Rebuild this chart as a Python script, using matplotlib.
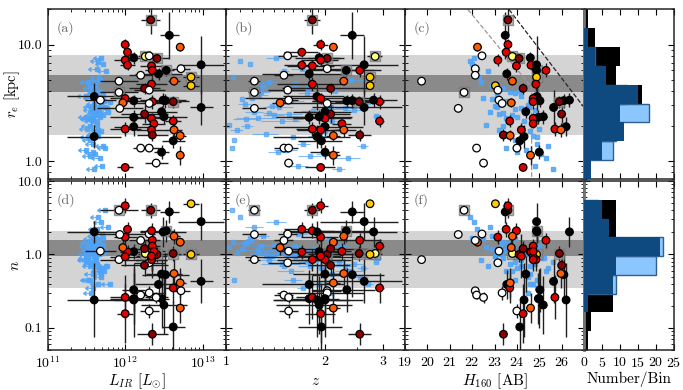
import numpy as np
import matplotlib
matplotlib.use("Agg")
import matplotlib.pyplot as plt
from matplotlib.ticker import FixedLocator, FixedFormatter, NullFormatter, LogLocator

plt.rcParams['font.family'] = 'cmr10'
plt.rcParams['mathtext.fontset'] = 'cm'
plt.rcParams['axes.formatter.use_mathtext'] = True

# ---------------------------------------------------------
# DUSTY GALAXIES (circles): colour code, log L_IR, r_e, z, H160, n
# ---------------------------------------------------------
gal_col = ['d', 'k', 'r', 'o', 'r', 'k', 'l', 'w', 'd', 'r',
           'r', 'r', 'r', 'k', 'k', 'w', 'k', 'w', 'y', 'w',
           'o', 'r', 'y', 'd', 'w', 'w', 'k', 'w', 'r', 'k',
           'o', 'r', 'w', 'k', 'k', 'd', 'w', 'k', 'd', 'k',
           'k', 'r', 'k', 'r', 'r', 'k', 'r', 'r', 'o', 'k',
           'd', 'o', 'k', 'w', 'w', 'k', 'o', 'w', 'r']
gal_lir = [12.33, 12.57, 12.00, 12.71, 12.03, 12.11, 12.26, 12.31, 12.41, 12.00,
           12.03, 12.34, 12.35, 12.43, 12.53, 12.72, 12.98, 12.20, 12.85, 11.92,
           12.63, 12.34, 12.85, 12.25, 12.31, 11.92, 11.60, 11.68, 12.00, 12.11,
           11.97, 12.35, 12.31, 12.49, 12.52, 12.62, 11.93, 12.98, 12.25, 12.47,
           12.11, 12.34, 12.50, 12.62, 12.37, 12.11, 12.00, 12.34, 12.63, 11.60,
           12.35, 12.71, 12.62, 12.20, 12.31, 12.47, 12.71, 12.40, 12.00]
gal_re = [16.3, 12.0, 10.0, 9.5, 8.6, 7.7, 7.9, 8.0, 7.6, 7.35,
          6.65, 6.56, 6.0, 5.6, 6.0, 6.2, 6.7, 5.45, 5.25, 4.85,
          4.85, 4.57, 4.43, 4.2, 4.06, 3.88, 3.58, 3.33, 3.44, 3.29,
          3.16, 3.23, 3.12, 3.33, 3.30, 3.23, 2.83, 2.88, 2.53, 2.65,
          2.37, 2.32, 2.40, 2.20, 2.09, 1.97, 1.88, 1.85, 1.85, 1.62,
          1.67, 1.65, 1.49, 1.29, 1.29, 1.19, 1.12, 0.96, 0.88]
gal_z = [1.83, 2.42, 1.94, 2.12, 1.70, 1.92, 2.84, 1.54, 2.03, 1.94,
         1.70, 1.83, 2.55, 1.79, 2.32, 2.03, 2.63, 1.50, 2.74, 1.22,
         2.28, 1.83, 2.74, 2.08, 1.54, 1.22, 1.89, 1.55, 1.94, 2.33,
         1.46, 2.93, 2.03, 2.81, 2.42, 2.54, 1.22, 2.63, 2.08, 2.00,
         1.79, 2.00, 1.92, 2.93, 2.25, 2.00, 1.83, 1.94, 2.28, 1.89,
         2.55, 2.12, 1.95, 1.50, 1.55, 2.00, 2.12, 1.55, 1.94]
gal_h = [23.60, 23.48, 23.60, 22.24, 23.52, 24.60, 23.80, 22.44, 24.10, 23.15,
         24.63, 23.98, 25.30, 23.55, 24.88, 22.14, 24.88, 22.14, 24.88, 19.74,
         23.80, 24.85, 23.04, 24.28, 23.15, 21.64, 24.90, 23.20, 24.73, 25.03,
         23.75, 24.73, 23.34, 26.35, 26.10, 25.90, 21.38, 25.64, 26.00, 24.40,
         24.96, 24.73, 25.18, 23.68, 24.73, 26.20, 25.70, 24.20, 25.97, 24.32,
         23.40, 23.70, 24.13, 22.20, 24.00, 25.00, 24.61, 22.51, 24.28]
gal_n = [4.0, 3.8, 4.6, 1.47, 2.2, 1.09, 1.03, 1.9, 1.0, 1.72,
         1.08, 2.1, 1.56, 0.39, 2.1, 0.32, 2.8, 1.55, 1.0, 0.85,
         1.77, 0.85, 4.9, 1.2, 0.77, 4.0, 2.03, 1.11, 0.93, 0.33,
         1.24, 1.3, 0.30, 2.03, 0.53, 1.03, 1.87, 0.43, 0.71, 0.54,
         0.25, 0.85, 0.205, 0.35, 1.1, 0.24, 0.26, 0.95, 0.55, 0.24,
         0.082, 0.41, 0.103, 0.28, 0.17, 0.25, 0.186, 0.26, 0.156]
gal_boxed = [1, 0, 0, 0, 0, 0, 1, 0, 1, 0,
             0, 0, 0, 0, 1, 0, 0, 0, 1, 0,
             0, 0, 0, 0, 0, 1, 0, 0, 0, 0,
             0, 0, 0, 0, 0, 1, 0, 0, 0, 0,
             0, 0, 0, 0, 0, 0, 0, 0, 0, 0,
             0, 0, 0, 0, 0, 0, 0, 0, 0]
# errors: dex for L_IR, r_e, n; absolute for z and H160
gal_lir_err = [0.12, 0.12, 0.05, 0.05, 0.05, 0.1, 0.1, 0.08, 0.15, 0.15,
               0.1, 0.15, 0.1, 0.3, 0.1, 0.12, 0.3, 0.15, 0.1, 0.25,
               0.08, 0.2, 0.1, 0.2, 0.2, 0.25, 0.35, 0.2, 0.2, 0.15,
               0.05, 0.1, 0.2, 0.3, 0.3, 0.1, 0.3, 0.15, 0.3, 0.2,
               0.3, 0.2, 0.3, 0.1, 0.15, 0.25, 0.2, 0.2, 0.1, 0.35,
               0.2, 0.08, 0.15, 0.1, 0.12, 0.1, 0.05, 0.15, 0.1]
gal_z_err = [0.1, 0.2, 0.1, 0.05, 0.2, 0.3, 0.15, 0.1, 0.25, 0.25,
             0.2, 0.3, 0.4, 0.5, 0.5, 0.2, 0.7, 0.1, 0.1, 0.05,
             0.05, 0.4, 0.05, 0.6, 0.2, 0.05, 0.4, 0.1, 0.8, 0.5,
             0.08, 0.1, 0.6, 0.5, 0.6, 0.4, 0.1, 0.8, 0.3, 0.4,
             0.2, 0.4, 0.5, 0.1, 0.15, 0.6, 0.2, 0.3, 0.2, 0.5,
             0.2, 0.1, 0.3, 0.1, 0.1, 0.2, 0.1, 0.05, 0.2]
gal_re_err = [0.12, 0.2, 0.05, 0.03, 0.04, 0.05, 0.03, 0.02, 0.04, 0.05,
              0.04, 0.05, 0.06, 0.05, 0.05, 0.02, 0.25, 0.02, 0.03, 0.02,
              0.03, 0.06, 0.03, 0.05, 0.02, 0.03, 0.12, 0.02, 0.05, 0.05,
              0.04, 0.06, 0.03, 0.06, 0.06, 0.05, 0.03, 0.15, 0.08, 0.05,
              0.06, 0.05, 0.06, 0.05, 0.04, 0.08, 0.06, 0.06, 0.06, 0.1,
              0.05, 0.05, 0.06, 0.02, 0.02, 0.06, 0.08, 0.03, 0.03]
gal_n_err = [0.1, 0.15, 0.1, 0.05, 0.1, 0.1, 0.05, 0.05, 0.1, 0.1,
             0.1, 0.1, 0.1, 0.2, 0.15, 0.05, 0.25, 0.05, 0.05, 0.05,
             0.1, 0.15, 0.05, 0.1, 0.05, 0.05, 0.15, 0.05, 0.12, 0.3,
             0.1, 0.1, 0.1, 0.2, 0.3, 0.1, 0.05, 0.3, 0.15, 0.25,
             0.35, 0.15, 0.4, 0.2, 0.12, 0.5, 0.3, 0.3, 0.2, 0.5,
             0.15, 0.2, 0.35, 0.05, 0.1, 0.4, 0.2, 0.08, 0.4]
gal_h_err = [0.15, 0.15, 0.1, 0.05, 0.1, 0.1, 0.15, 0.05, 0.1, 0.1,
             0.1, 0.1, 0.15, 0.1, 0.15, 0.05, 0.15, 0.05, 0.1, 0.05,
             0.05, 0.15, 0.1, 0.1, 0.05, 0.05, 0.15, 0.05, 0.1, 0.15,
             0.05, 0.1, 0.05, 0.15, 0.15, 0.15, 0.05, 0.15, 0.15, 0.1,
             0.15, 0.1, 0.15, 0.1, 0.1, 0.15, 0.15, 0.1, 0.15, 0.1,
             0.1, 0.1, 0.1, 0.05, 0.05, 0.15, 0.1, 0.05, 0.1]

# ---------------------------------------------------------
# BLUE COMPARISON SAMPLE (squares, L_IR are upper limits)
# ---------------------------------------------------------
blue_lir = [11.62, 11.55, 11.70, 11.58, 11.66, 11.52, 11.74, 11.60, 11.63, 11.68,
            11.50, 11.72, 11.57, 11.65, 11.80, 11.54, 11.61, 11.67, 11.71, 11.49,
            11.64, 11.59, 11.66, 11.75, 11.53, 11.69, 11.62, 11.56, 11.78, 11.61,
            11.58, 11.65, 11.73, 11.51, 11.60, 11.70, 11.64, 11.68, 11.55, 11.63,
            11.57, 11.72, 11.66, 11.52, 11.69, 11.60, 11.76, 11.58, 11.63, 11.50,
            11.71, 11.65, 11.59, 11.67, 11.54, 11.62, 11.74, 11.56, 11.61, 11.69]
blue_re = [2.6, 1.1, 3.4, 2.2, 5.3, 1.6, 2.9, 0.85, 3.9, 2.4,
           1.25, 6.8, 2.75, 1.85, 3.2, 2.35, 4.6, 1.05, 2.5, 3.6,
           2.05, 1.4, 2.8, 5.9, 2.3, 3.05, 1.7, 4.25, 2.65, 1.15,
           2.45, 7.2, 3.3, 1.9, 2.95, 0.9, 2.2, 4.0, 1.5, 2.7,
           3.5, 1.35, 2.55, 4.8, 1.8, 3.1, 2.85, 1.2, 6.2, 2.4,
           3.7, 1.65, 2.3, 5.0, 2.0, 3.85, 1.3, 2.9, 4.4, 7.6]
blue_z = [1.35, 1.80, 1.12, 2.10, 1.05, 1.60, 1.45, 2.20, 1.28, 1.95,
          1.52, 1.18, 2.45, 1.08, 2.70, 1.25, 1.62, 2.35, 1.40, 1.88,
          1.02, 1.72, 2.05, 1.50, 1.15, 2.55, 1.32, 1.78, 1.22, 1.98,
          2.85, 1.10, 1.58, 2.25, 1.38, 1.66, 1.48, 2.15, 1.06, 1.84,
          1.20, 2.60, 1.55, 1.35, 2.00, 1.14, 2.30, 1.44, 1.70, 2.90,
          1.26, 1.92, 1.62, 2.40, 1.16, 1.76, 1.04, 2.08, 1.30, 1.42]
blue_z_err = [0.05, 0.15, 0.0, 0.2, 0.0, 0.1, 0.15, 0.1, 0.08, 0.05,
              0.12, 0.0, 0.15, 0.05, 0.1, 0.18, 0.05, 0.2, 0.1, 0.15,
              0.0, 0.08, 0.2, 0.05, 0.1, 0.15, 0.12, 0.05, 0.08, 0.1,
              0.05, 0.0, 0.15, 0.1, 0.05, 0.12, 0.2, 0.1, 0.0, 0.15,
              0.05, 0.1, 0.15, 0.08, 0.1, 0.05, 0.15, 0.1, 0.12, 0.05,
              0.08, 0.15, 0.1, 0.2, 0.05, 0.1, 0.0, 0.15, 0.05, 0.1]
blue_h = [23.4, 24.6, 22.9, 24.3, 22.3, 24.9, 23.1, 25.6, 23.7, 24.0,
          24.4, 22.0, 24.8, 23.2, 24.6, 23.5, 23.0, 25.3, 23.8, 24.2,
          22.6, 24.9, 23.9, 22.7, 23.6, 24.5, 23.3, 23.4, 22.8, 25.1,
          24.7, 21.9, 23.5, 25.0, 23.0, 24.8, 23.7, 24.1, 23.9, 24.4,
          22.5, 25.4, 23.2, 22.4, 24.6, 23.3, 24.2, 24.0, 22.2, 25.2,
          23.1, 24.7, 23.6, 23.8, 23.4, 23.9, 23.5, 24.5, 22.9, 22.1]
blue_n = [0.9, 0.7, 1.2, 0.55, 1.5, 0.45, 1.1, 0.8, 1.3, 0.65,
          1.0, 1.7, 0.75, 1.05, 0.4, 1.15, 0.95, 0.6, 1.35, 0.85,
          1.25, 0.35, 1.6, 0.7, 1.45, 0.5, 1.0, 1.1, 2.4, 0.9,
          0.8, 3.2, 0.6, 1.3, 0.95, 1.9, 0.75, 1.05, 0.45, 1.2,
          1.6, 0.65, 1.0, 0.85, 0.55, 1.4, 0.7, 1.15, 2.2, 0.9,
          1.05, 0.4, 1.3, 0.6, 1.5, 0.8, 4.0, 0.3, 1.8, 2.8]

# ---------------------------------------------------------
# HISTOGRAMS (counts per bin, bottom bin first)
# ---------------------------------------------------------
re_hist_all = [2, 5, 11, 10, 16, 9, 10, 3, 1]
re_hist_light = [0, 8, 9, 18, 12, 5, 3, 0, 0]
re_hist_dark = [2, 5, 11, 10, 15, 6, 3, 1, 0]
n_hist_all = [1, 2, 8, 8, 9, 21, 9, 9, 0]
n_hist_light = [0, 0, 0, 9, 20, 22, 6, 4, 0]
n_hist_dark = [0, 0, 1, 8, 9, 21, 7, 5, 0]

# typical ranges (bands) and detection limits in panel (c)
re_band_outer = [1.67, 8.1]
re_band_inner = [3.9, 5.5]
n_band_outer = [0.35, 2.1]
n_band_inner = [0.96, 1.55]
lim1_h, lim1_re = [23.65, 27.0], [20.0, 2.89]
lim2_h, lim2_re = [21.81, 24.66, 24.66], [20.0, 4.3, 0.7]

colours = {'k': 'black', 'w': 'white', 'r': '#e00000', 'd': '#8b0000',
           'o': '#ff5a00', 'y': '#ffcc00', 'l': '#ffff80'}
blue = '#4fa3f7'

# ---------------------------------------------------------
# FIGURE
# ---------------------------------------------------------
fig = plt.figure(figsize=(6.83, 3.90), dpi=100)
W, H = 683.0, 390.0
cols = [(47.7, 226), (226, 405), (405, 584)]
rows = [(9.5, 179), (181, 350)]
hist_x = (584, 674)

def mkax(x0, x1, y0, y1):
    return fig.add_axes([x0 / W, 1 - y1 / H, (x1 - x0) / W, (y1 - y0) / H])

fc = [colours[c] for c in gal_col]
lir = 10 ** np.array(gal_lir)
re = np.array(gal_re)
nn = np.array(gal_n)
zz = np.array(gal_z)
hh = np.array(gal_h)
boxed = np.array(gal_boxed) == 1

def dex_err(v, e):
    e = np.array(e)
    return [v - v * 10 ** (-e), v * 10 ** e - v]

xdata = [(lir, dex_err(lir, gal_lir_err)), (zz, np.array(gal_z_err)), (hh, np.array(gal_h_err))]
ydata = [(re, dex_err(re, gal_re_err)), (nn, dex_err(nn, gal_n_err))]
bx = [10 ** np.array(blue_lir), np.array(blue_z), np.array(blue_h)]
by = [np.array(blue_re), np.array(blue_n)]
letters = [['(a)', '(b)', '(c)'], ['(d)', '(e)', '(f)']]
bands = [(re_band_outer, re_band_inner), (n_band_outer, n_band_inner)]
ylims = [(0.7, 20), (0.05, 10)]

axes = []
for r, (y0, y1) in enumerate(rows):
    row_axes = []
    for c, (x0, x1) in enumerate(cols):
        ax = mkax(x0, x1, y0, y1)
        ax.set_yscale('log')
        ax.set_ylim(*ylims[r])
        outer, inner = bands[r]
        ax.axhspan(outer[0], outer[1], color='#d4d4d4', lw=0, zorder=0)
        ax.axhspan(inner[0], inner[1], color='#8a8a8a', lw=0, zorder=0)

        # blue sample
        if c == 0:
            ax.errorbar(bx[0], by[r], xerr=[bx[0] * (1 - 10 ** -0.07), 0 * bx[0]],
                        fmt='s', ms=3, color=blue, mec=blue, elinewidth=0.8,
                        alpha=0.85, zorder=1)
            ax.plot(bx[0] * 10 ** -0.07, by[r], ls='none', marker=8, ms=3,
                    color=blue, alpha=0.85, zorder=1)
        elif c == 1:
            ax.errorbar(bx[1], by[r], xerr=blue_z_err, fmt='s', ms=3, color=blue,
                        mec=blue, elinewidth=0.8, alpha=0.7, zorder=1)
        else:
            ax.errorbar(bx[2], by[r], fmt='s', ms=3, color=blue, mec=blue,
                        alpha=0.85, zorder=1)

        if c == 2 and r == 0:
            ax.plot(lim1_h, lim1_re, ls='--', color='0.15', lw=0.9, zorder=2)
            ax.plot(lim2_h, lim2_re, ls='--', color='0.6', lw=0.9, zorder=2)

        xv, xe = xdata[c]
        yv, ye = ydata[r]
        ax.errorbar(xv, yv, xerr=xe, yerr=ye, fmt='none', ecolor='0.12',
                    elinewidth=1.0, zorder=3)
        ax.scatter(xv[boxed], yv[boxed], marker='s', s=60, color='0.6',
                   edgecolor='0.45', alpha=0.7, zorder=4)
        ax.scatter(xv, yv, s=30, c=fc, edgecolors='k', linewidths=0.9, zorder=5)

        ax.text(0.05, 0.93, letters[r][c], transform=ax.transAxes, fontsize=10,
                color='0.4', va='top', ha='left')
        ax.tick_params(which='both', direction='in', top=True, right=True,
                       labelsize=10, pad=4)
        ax.tick_params(which='major', length=4)
        ax.tick_params(which='minor', length=2)
        for s in ax.spines.values():
            s.set_linewidth(1.1)
            s.set_color('0.15')

        if c == 0:
            ax.set_xscale('log')
            ax.set_xlim(1e11, 2e13)
            ax.xaxis.set_major_locator(FixedLocator([1e11, 1e12, 1e13]))
        elif c == 1:
            ax.set_xscale('log')
            ax.set_xlim(1.0, 3.5)
            ax.xaxis.set_major_locator(FixedLocator([1, 2, 3]))
            ax.xaxis.set_major_formatter(FixedFormatter(['1', '2', '3']))
            ax.xaxis.set_minor_locator(FixedLocator([1.1, 1.2, 1.3, 1.4, 1.5, 1.6, 1.7,
                                                     1.8, 1.9, 2.5, 3.5]))
            ax.xaxis.set_minor_formatter(NullFormatter())
        else:
            ax.set_xlim(19, 27)
            ax.set_xticks([19, 20, 21, 22, 23, 24, 25, 26])

        if r == 0:
            ax.set_yticks([1.0, 10.0])
            ax.yaxis.set_major_formatter(FixedFormatter(['1.0', '10.0']))
        else:
            ax.set_yticks([0.1, 1.0, 10.0])
            ax.yaxis.set_major_formatter(FixedFormatter(['0.1', '1.0', '10.0']))
        ax.yaxis.set_minor_locator(LogLocator(subs=np.arange(2, 10)))
        ax.yaxis.set_minor_formatter(NullFormatter())
        if c > 0:
            ax.set_yticklabels([])
        if r == 0:
            ax.set_xticklabels([])
        row_axes.append(ax)
    axes.append(row_axes)

axes[0][0].set_ylabel(r'$r_e$ [kpc]', fontsize=10.5)
axes[0][0].yaxis.set_label_coords(-0.145, 0.5)
axes[1][0].set_ylabel(r'$n$', fontsize=11)
axes[1][0].yaxis.set_label_coords(-0.145, 0.5)
axes[1][0].set_xlabel(r'$L_{IR}$ [$L_{\odot}$]', fontsize=11)
axes[1][0].xaxis.set_label_coords(0.5, -0.125)
axes[1][1].set_xlabel(r'$z$', fontsize=11)
axes[1][1].xaxis.set_label_coords(0.5, -0.145)
axes[1][2].set_xlabel(r'$H_{160}$ [AB]', fontsize=11)
axes[1][2].xaxis.set_label_coords(0.5, -0.125)

# histograms
hists = [(re_hist_all, re_hist_light, re_hist_dark), (n_hist_all, n_hist_light, n_hist_dark)]
for r, (y0, y1) in enumerate(rows):
    ax = mkax(hist_x[0], hist_x[1], y0, y1)
    ax.set_yscale('log')
    lo, hi = ylims[r]
    edges = np.logspace(np.log10(lo), np.log10(hi), len(hists[r][0]) + 1)
    hgt = np.diff(edges)
    h_all, h_light, h_dark = hists[r]
    ax.barh(edges[:-1], h_all, height=hgt, align='edge', color='black', lw=0, zorder=1)
    ax.barh(edges[:-1], h_light, height=hgt, align='edge', color='#8cc6ff',
            edgecolor='#2f5f8f', lw=1.0, zorder=2)
    ax.barh(edges[:-1], h_dark, height=hgt, align='edge', color='#0e4a80', lw=0, zorder=3)
    ax.set_ylim(lo, hi)
    ax.set_xlim(0, 25)
    ax.set_xticks([0, 5, 10, 15, 20, 25])
    ax.tick_params(which='both', direction='in', top=True, right=True, labelsize=10,
                   labelleft=False, pad=4)
    ax.tick_params(which='major', length=4)
    ax.tick_params(which='minor', length=2)
    ax.yaxis.set_minor_locator(LogLocator(subs=np.arange(2, 10)))
    ax.yaxis.set_minor_formatter(NullFormatter())
    for s in ax.spines.values():
        s.set_linewidth(1.1)
        s.set_color('0.15')
    ax.spines['left'].set_linewidth(2.0)
    ax.spines['left'].set_color('0.45')
    if r == 0:
        ax.set_xticklabels([])
    else:
        ax.set_xlabel('Number/Bin', fontsize=11)
        ax.xaxis.set_label_coords(0.5, -0.125)

fig.savefig('out.png', dpi=100)
